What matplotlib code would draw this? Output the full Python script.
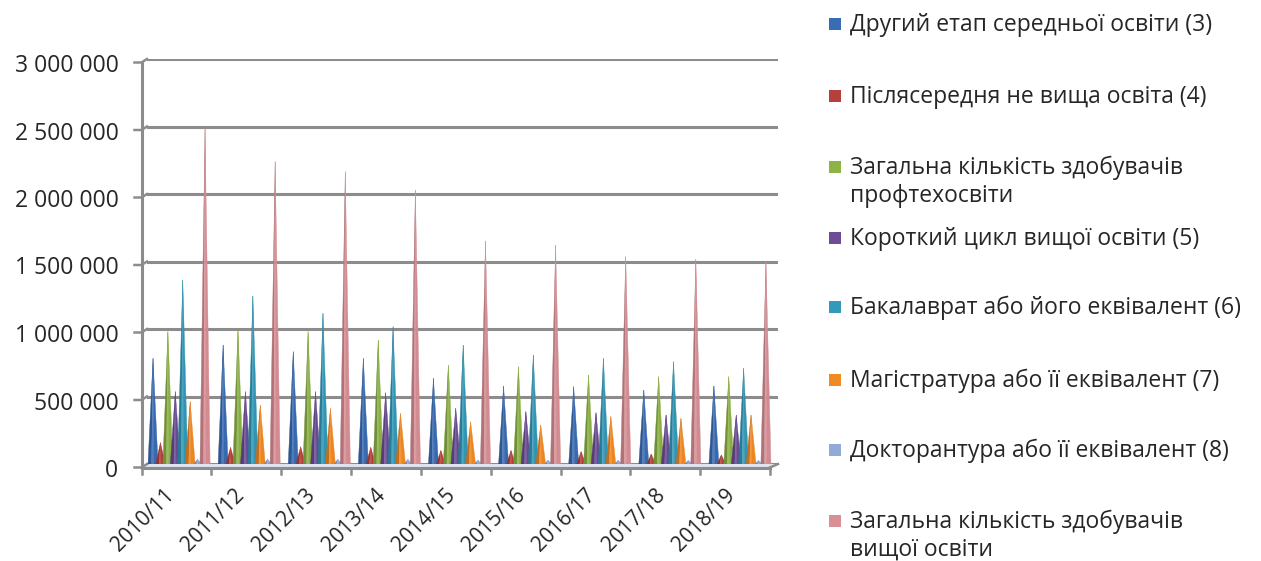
import numpy as np
import matplotlib
matplotlib.use("Agg")
import matplotlib.pyplot as plt
from matplotlib.patches import Polygon, Rectangle
from matplotlib.transforms import ScaledTranslation
from matplotlib.ticker import FuncFormatter
from matplotlib.colors import to_rgb

plt.rcParams['font.family'] = ['Open Sans', 'DejaVu Sans']

# --- data ------------------------------------------------------------------
years = ["2010/11", "2011/12", "2012/13", "2013/14", "2014/15",
         "2015/16", "2016/17", "2017/18", "2018/19"]

series_names = [
    "Другий етап середньої освіти (3)",
    "Післясередня не вища освіта (4)",
    "Загальна кількість здобувачів\nпрофтехосвіти",
    "Короткий цикл вищої освіти (5)",
    "Бакалаврат або його еквівалент (6)",
    "Магістратура або її еквівалент (7)",
    "Докторантура або її еквівалент (8)",
    "Загальна кількість здобувачів\nвищої освіти",
]

upper_secondary = [783000, 881000, 832000, 783000, 635000, 578000, 573000, 548000, 578000]
post_secondary = [158000, 123000, 128000, 123000, 99000, 99000, 91000, 74000, 67000]
vocational_total = [980000, 993000, 980000, 918000, 733000, 721000, 659000, 647000, 647000]
short_cycle = [536000, 536000, 536000, 528000, 412000, 388000, 380000, 363000, 363000]
bachelor = [1363000, 1244000, 1116000, 1017000, 881000, 807000, 783000, 758000, 709000]
master = [462000, 437000, 412000, 375000, 313000, 289000, 351000, 338000, 363000]
doctoral = [35000, 35000, 35000, 34000, 28000, 28000, 27000, 27000, 26000]
higher_total = [2487000, 2240000, 2165000, 2030000, 1652000, 1622000, 1536000, 1516000, 1499000]

all_series = [upper_secondary, post_secondary, vocational_total, short_cycle,
              bachelor, master, doctoral, higher_total]

colors = ["#3a6cb4", "#b8403b", "#8db346", "#6c4c96",
          "#3399b8", "#f28a24", "#93a9d6", "#d98f95"]

# --- figure / axes (axes = back wall of the 3D frame) ------------------------
W, H = 1261, 561
fig = plt.figure(figsize=(W / 100, H / 100), dpi=100)
ax = fig.add_axes([147 / W, 97 / H, 631 / W, 405 / H])
ax.set_xlim(-0.5, 8.5)
ax.set_ylim(0, 3000000)
for s in ax.spines.values():
    s.set_visible(False)

px_x = 9 / 631          # data units per pixel, x
px_y = 3000000 / 405    # data units per pixel, y

grid_c = "#8c8c8c"
txt_c = "#262626"
ax.set_yticks(np.arange(0, 3000001, 500000))
ax.yaxis.grid(True, color=grid_c, lw=2.2)
ax.set_axisbelow(True)
ax.tick_params(axis="y", length=0, pad=17, labelsize=16.5, labelcolor=txt_c)
ax.yaxis.set_major_formatter(FuncFormatter(lambda v, p: f"{int(v):,}".replace(",", " ")))
shift = ScaledTranslation(-5 / 100, -4 / 100, fig.dpi_scale_trans)
for lab in ax.get_yticklabels():
    lab.set_transform(lab.get_transform() + shift)

# front edge of the frame (slightly lower-left of the back wall)
fx0 = -0.5 - 5.5 * px_x
fx1 = 8.5 - 8 * px_x
fy0 = -3.5 * px_y
ax.plot([fx0, fx0], [fy0, 3000000 + fy0], color=grid_c, lw=2.2, clip_on=False)
ax.plot([fx0, fx1], [fy0, fy0], color=grid_c, lw=2.2, clip_on=False)
for v in ax.get_yticks():
    ax.plot([fx0 - 7 * px_x, fx0, -0.5], [v + fy0, v + fy0, v], color=grid_c,
            lw=1.8, clip_on=False)
for k in range(10):
    bx = fx0 + k * (fx1 - fx0) / 9
    ax.plot([bx, bx], [fy0, fy0 - 6 * px_y], color=grid_c, lw=1.8, clip_on=False)
ax.plot([fx1, 8.5], [fy0, 0], color=grid_c, lw=1.8, clip_on=False)
floor = Polygon([(fx0, fy0), (fx1, fy0), (8.5, 0), (-0.5, 0)], closed=True,
                facecolor="#dfe3ee", edgecolor="none", clip_on=False, zorder=1)
ax.add_patch(floor)

# x tick labels
ax.set_xticks(np.arange(len(years)))
ax.set_xticklabels(years, rotation=45, ha="right", va="top",
                   rotation_mode="anchor", fontsize=15, color=txt_c)
ax.tick_params(axis="x", length=0, pad=15)
xshift = ScaledTranslation(-18 / 100, 0, fig.dpi_scale_trans)
for lab in ax.get_xticklabels():
    lab.set_transform(lab.get_transform() + xshift)


# --- cones ------------------------------------------------------------------
def shade(c, f):
    r, g, b = to_rgb(c)
    if f < 1:
        return (r * f, g * f, b * f)
    t = f - 1
    return (r + (1 - r) * t, g + (1 - g) * t, b + (1 - b) * t)


cone_w = 0.145
step = 0.106
base_y = fy0 / 2
for i in range(len(years)):
    for k, vals in enumerate(all_series):
        xc = i - 0.414 + k * step
        top = vals[i]
        xl, xr = xc - cone_w / 2, xc + cone_w / 2
        xa = xl + cone_w * 0.36
        xb = xl + cone_w * 0.58
        parts = [
            ([(xl, base_y), (xa, base_y), (xc, top)], shade(colors[k], 0.8)),
            ([(xa, base_y), (xb, base_y), (xc, top)], shade(colors[k], 1.12)),
            ([(xb, base_y), (xr, base_y), (xc, top)], shade(colors[k], 0.97)),
        ]
        for pts, col in parts:
            ax.add_patch(Polygon(pts, closed=True, facecolor=col, edgecolor=col,
                                 lw=0.3, zorder=3 + k))

# --- legend -------------------------------------------------------------------
legend_y = [24, 96, 167, 238, 307, 380, 450, 521]
for k, name in enumerate(series_names):
    yc = legend_y[k]
    fig.patches.append(Rectangle((829 / W, 1 - (yc + 6) / H), 12 / W, 12 / H,
                                 transform=fig.transFigure, facecolor=colors[k],
                                 edgecolor="none"))
    for j, line in enumerate(name.split("\n")):
        fig.text(850 / W, 1 - (yc + 1 + 28 * j) / H, line, ha="left", va="center",
                 fontsize=16.5, color=txt_c)

fig.savefig("out.png", dpi=100)
